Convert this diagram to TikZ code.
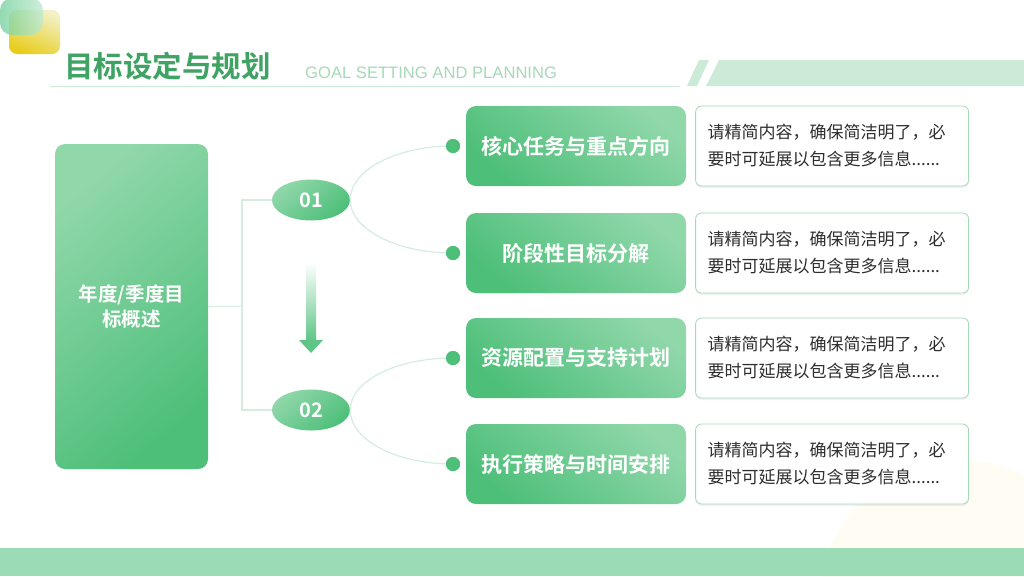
\documentclass[tikz,border=0pt]{standalone}
\usepackage{fontspec}
\setmainfont{Liberation Sans}
\newfontfamily\cjk[BoldFont={Noto Sans CJK SC Bold}]{Noto Sans CJK SC}
\usetikzlibrary{positioning,shadows,shapes.geometric}

\definecolor{titlegreen}{HTML}{3FA363}
\definecolor{subgreen}{HTML}{A6D9B9}
\definecolor{rulegreen}{HTML}{CDEBD9}
\definecolor{stripgreen}{HTML}{CBEBD8}
\definecolor{bandgreen}{HTML}{9BDBB5}
\definecolor{glight}{HTML}{90D7AA}
\definecolor{gdark}{HTML}{4DBF79}
\definecolor{linkgreen}{HTML}{D5EDE0}
\definecolor{boxline}{HTML}{A3D9B8}
\definecolor{desctext}{HTML}{2E2E2E}
\definecolor{cornergreen}{HTML}{6FCF9A}
\definecolor{corneryellow}{HTML}{E8CD1C}
\definecolor{cornerlight}{HTML}{F2F0C4}
\definecolor{faintyellow}{HTML}{FFFCF3}

\newcommand{\desclines}{请精简内容，确保简洁明了，必\\要时可延展以包含更多信息......}

\tikzset{
  goalbox/.style={rectangle, rounded corners=10pt, top color=glight, bottom color=gdark,
    shading angle=40, text=white, align=center, minimum width=153pt, minimum height=325pt,
    font=\cjk\bfseries\fontsize{19.5}{25}\selectfont},
  numell/.style={ellipse, top color=glight, bottom color=gdark, shading angle=40,
    text=white, minimum width=78pt, minimum height=41pt, inner sep=0pt,
    font=\cjk\bfseries\fontsize{20}{24}\selectfont},
  taskbox/.style={rectangle, rounded corners=10pt, top color=glight, bottom color=gdark,
    shading angle=-40, text=white, minimum width=220pt, minimum height=80pt,
    font=\cjk\bfseries\fontsize{21}{25}\selectfont},
  descbox/.style={rectangle, rounded corners=6pt, fill=white, draw=boxline, line width=0.8pt,
    drop shadow={shadow xshift=0pt, shadow yshift=-2pt, opacity=0.10},
    minimum width=273pt, minimum height=80pt, text width=249pt, align=left, inner xsep=12pt,
    text=desctext, font=\cjk\fontsize{17}{27}\selectfont},
  dotn/.style={circle, fill=gdark, minimum size=14pt, inner sep=0pt},
  linkline/.style={draw=linkgreen, line width=1.2pt},
}

\begin{document}
\begin{tikzpicture}[x=1pt,y=-1pt]
  \useasboundingbox (0,0) rectangle (1024,576);
  \fill[white] (0,0) rectangle (1024,576);
  \fill[faintyellow] (960,600) circle (140pt);

  % corner squares
  \shade[rounded corners=8pt, top color=cornerlight, bottom color=corneryellow, shading angle=-25]
    (9,10) rectangle (60,54);
  \shade[rounded corners=12pt, left color=cornergreen, right color=cornergreen!45, opacity=0.75]
    (0,-2) rectangle (43,35);

  % heading
  \node[anchor=base west, inner sep=0pt, text=titlegreen, font=\cjk\bfseries\fontsize{29.5}{34}\selectfont]
    (title) at (64,77) {目标设定与规划};
  \node[anchor=base west, inner sep=0pt, text=subgreen, font=\fontsize{16.6}{19}\selectfont]
    (subtitle) at (305,78) {GOAL SETTING AND PLANNING};
  \draw[rulegreen, line width=1pt] (50,86) -- (680,86);
  \fill[stripgreen] (687,86) -- (697,86) -- (709,60) -- (699,60) -- cycle;
  \fill[stripgreen] (706,86) -- (1024,86) -- (1024,60) -- (719,60) -- cycle;
  \fill[bandgreen] (0,548) rectangle (1024,576);

  % main boxes
  \node[goalbox] (goal) at (131.5,306.5) {年度/季度目\\标概述};
  \node[numell] (n1) at (311,200) {01};
  \node[numell] (n2) at (311,410) {02};
  \coordinate (fork) at (242,306.5);
  \draw[linkline] (goal.east) -- (fork);
  \draw[linkline] (n1.west) -| (fork) |- (n2.west);

  % down arrow
  \shade[top color=white, bottom color=gdark!90] (306,262) rectangle (316,341);
  \fill[gdark!90] (299,340) -- (323,340) -- (311,353) -- cycle;

  \node[dotn] (d1) at (453,146) {};
  \node[dotn] (d2) at (453,253) {};
  \node[dotn] (d3) at (453,358) {};
  \node[dotn] (d4) at (453,464) {};
  \draw[linkline] (n1.east) .. controls +(0,-30) and +(-57,0) .. (d1.center);
  \draw[linkline] (n1.east) .. controls +(0,29) and +(-57,0) .. (d2.center);
  \draw[linkline] (n2.east) .. controls +(0,-29) and +(-57,0) .. (d3.center);
  \draw[linkline] (n2.east) .. controls +(0,30) and +(-57,0) .. (d4.center);
  \node[dotn] at (d1) {};
  \node[dotn] at (d2) {};
  \node[dotn] at (d3) {};
  \node[dotn] at (d4) {};

  \node[taskbox] (t1) at (576,146) {核心任务与重点方向};
  \node[taskbox] (t2) at (576,253) {阶段性目标分解};
  \node[taskbox] (t3) at (576,358) {资源配置与支持计划};
  \node[taskbox] (t4) at (576,464) {执行策略与时间安排};

  \node[descbox, right=9pt of t1] (s1) {\desclines};
  \node[descbox, right=9pt of t2] (s2) {\desclines};
  \node[descbox, right=9pt of t3] (s3) {\desclines};
  \node[descbox, right=9pt of t4] (s4) {\desclines};
\end{tikzpicture}
\end{document}
